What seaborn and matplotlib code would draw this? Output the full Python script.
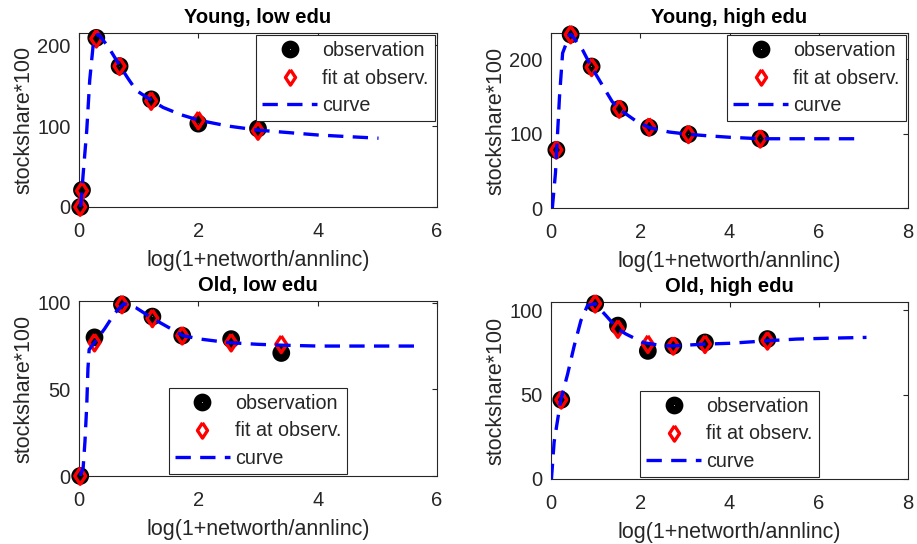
import matplotlib
matplotlib.use("Agg")
import matplotlib.pyplot as plt
from matplotlib.lines import Line2D
import seaborn as sns

# ---------------- data ----------------
titles = ["Young, low edu", "Young, high edu", "Old, low edu", "Old, high edu"]
xlabel_text = "log(1+networth/annlinc)"
ylabel_text = "stockshare*100"
legend_labels = ["observation", "fit at observ.", "curve"]

# Young, low edu
yl_obs_x = [0.02, 0.05, 0.29, 0.68, 1.21, 2.0, 3.0]
yl_obs_y = [0, 21, 209, 174, 133, 103, 97]
yl_fit_y = [0, 20, 208, 174, 131, 107, 94]
yl_cur_x = [0.0, 0.03, 0.07, 0.13, 0.18, 0.24, 0.32, 0.49, 0.68, 0.82, 0.96,
            1.21, 1.41, 1.71, 2.02, 2.5, 3.0, 3.5, 4.0, 4.5, 5.02]
yl_cur_y = [0, 2, 41, 95, 157, 202, 214, 198, 175, 159, 144,
            132, 123, 114, 107, 100, 95, 92, 89, 87, 85]

# Young, high edu
yh_obs_x = [0.12, 0.44, 0.91, 1.53, 2.2, 3.08, 4.69]
yh_obs_y = [78, 233, 190, 133, 108, 99, 93]
yh_fit_y = [78, 233, 189, 133, 109, 99, 93]
yh_cur_x = [0.03, 0.1, 0.19, 0.26, 0.43, 0.71, 0.9, 1.18, 1.37, 1.52, 1.9, 2.2,
            2.65, 3.08, 3.5, 4.0, 4.69, 5.5, 6.2, 7.0]
yh_cur_y = [0, 47, 149, 208, 235, 212, 190, 162, 143, 133, 117, 108,
            102, 99, 97, 95, 93, 93, 93, 93]

# Old, low edu
ol_obs_x = [0.02, 0.26, 0.72, 1.23, 1.73, 2.55, 3.39]
ol_obs_y = [0, 80, 99, 92, 81, 79, 71]
ol_fit_y = [0, 77, 99, 91, 81, 77, 76]
ol_cur_x = [0.02, 0.07, 0.1, 0.13, 0.15, 0.17, 0.26, 0.43, 0.6, 0.75, 0.96,
            1.23, 1.54, 1.74, 2.04, 2.5, 3.0, 3.4, 4.0, 4.5, 5.0, 5.75]
ol_cur_y = [0, 5, 20, 41, 62, 73, 77, 85, 94, 99.5, 97,
            91, 85, 81, 79, 77, 76, 75.5, 75, 75, 75, 75]

# Old, high edu
oh_obs_x = [0.23, 0.99, 1.5, 2.17, 2.74, 3.45, 4.85]
oh_obs_y = [47, 104, 91, 76, 79, 81, 83]
oh_fit_y = [47, 104, 89, 80, 79, 80, 82]
oh_cur_x = [0.01, 0.07, 0.22, 0.37, 0.52, 0.67, 0.82, 0.99, 1.23, 1.5, 1.68,
            2.06, 2.5, 2.74, 3.45, 4.0, 4.85, 5.5, 6.2, 7.07]
oh_cur_y = [0, 22, 47, 62, 79, 94, 103, 104, 97, 89, 86,
            81, 79, 79, 80, 80.5, 82, 83, 83.5, 84]

xlims = [6, 8, 6, 8]
ylims = [215, 235, 101, 105]
xticks = [[0, 2, 4, 6], [0, 2, 4, 6, 8], [0, 2, 4, 6], [0, 2, 4, 6, 8]]
yticks = [[0, 100, 200], [0, 100, 200], [0, 50, 100], [0, 50, 100]]

panels = [
    (yl_obs_x, yl_obs_y, yl_fit_y, yl_cur_x, yl_cur_y),
    (yh_obs_x, yh_obs_y, yh_fit_y, yh_cur_x, yh_cur_y),
    (ol_obs_x, ol_obs_y, ol_fit_y, ol_cur_x, ol_cur_y),
    (oh_obs_x, oh_obs_y, oh_fit_y, oh_cur_x, oh_cur_y),
]

# ---------------- style ----------------
sns.set_style("white")
plt.rcParams["font.family"] = ["Liberation Sans", "DejaVu Sans"]

W, H = 917, 544
fig = plt.figure(figsize=(W / 100, H / 100), dpi=100)

# axes boxes in pixels: (left, top, right, bottom)
boxes = [(79, 33, 437, 207), (551, 33, 908, 208),
         (79, 301, 437, 476), (551, 302, 908, 479)]

dash = (0, (4.6, 2.8))
gray = "0.15"
diamond = [(0, 1), (0.66, 0), (0, -1), (-0.66, 0), (0, 1)]

for i, (box, (ox, oy, fy, cx, cy)) in enumerate(zip(boxes, panels)):
    l, t, r, b = box
    ax = fig.add_axes([l / W, 1 - b / H, (r - l) / W, (b - t) / H])
    sns.scatterplot(x=ox, y=oy, ax=ax, marker="o", s=46, facecolor="none",
                    edgecolor="black", linewidth=6.0, clip_on=False, zorder=3)
    sns.scatterplot(x=ox, y=fy, ax=ax, marker=diamond, s=144, facecolor="none",
                    edgecolor="red", linewidth=2.4, clip_on=False, zorder=4)
    sns.lineplot(x=cx, y=cy, ax=ax, color="blue", linewidth=2.4,
                 linestyle=dash, sort=False, estimator=None, zorder=5)
    ax.set_xlim(0, xlims[i])
    ax.set_ylim(0, ylims[i])
    ax.set_xticks(xticks[i])
    ax.set_yticks(yticks[i])
    ax.tick_params(direction="in", length=3.5, width=0.8, colors=gray,
                   labelsize=14.5, top=True, right=True, pad=6)
    ax.tick_params(axis="x", pad=11)
    for sp in ax.spines.values():
        sp.set_color(gray)
        sp.set_linewidth(0.8)
        sp.set_visible(True)
    ax.set_xlabel(xlabel_text, fontsize=15.5, color=gray, labelpad=6)
    ax.set_ylabel(ylabel_text, fontsize=15.5, color=gray, labelpad=2)
    ax.set_title(titles[i], fontsize=14.5, fontweight="bold", color="black", pad=7)

    handles = [
        Line2D([], [], linestyle="none", marker="o", markersize=6.8,
               markerfacecolor="none", markeredgecolor="black", markeredgewidth=6.0),
        Line2D([], [], linestyle="none", marker=diamond, markersize=11,
               markerfacecolor="white", markeredgecolor="red", markeredgewidth=2.4),
        Line2D([], [], color="blue", linewidth=2.4, linestyle=dash),
    ]
    loc = "upper right" if i < 2 else "lower center"
    leg = ax.legend(handles, legend_labels, loc=loc, fontsize=14.2,
                    frameon=True, fancybox=False, framealpha=1,
                    edgecolor=gray, borderpad=0.3, labelspacing=0.42,
                    handlelength=2.8, handletextpad=0.25, borderaxespad=0.12)
    leg.get_frame().set_linewidth(0.8)

fig.savefig("out.png", dpi=100)
